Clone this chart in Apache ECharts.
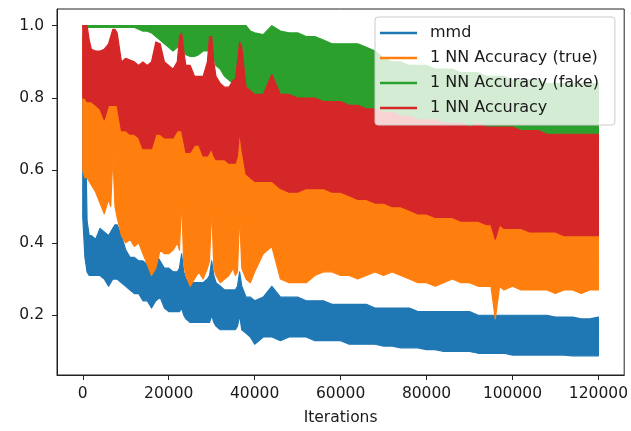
<!DOCTYPE html>
<html><head><meta charset="utf-8">
<script src="https://cdn.jsdelivr.net/npm/echarts@6.0.0/dist/echarts.min.js"></script>
<style>html,body{margin:0;padding:0;background:#fff}#c{width:631px;height:431px}</style>
</head><body><div id="c"></div>
<script>
// Iteration positions at which the band edges were read
const iterations = [0,500,1000,1500,
 2000,3000,4000,5000,6000,6500,7000,7500,8000,9000,10000,
 11000,12000,13000,14000,15000,16000,17000,18000,19000,20000,
 21000,22000,22500,23000,23500,24000,25000,26000,27000,28000,29000,29500,30000,30500,
 31000,32000,33000,34000,35000,35500,36000,36500,37000,38000,39000,40000,
 42000,44000,46000,48000,50000,52000,54000,56000,58000,60000,
 62000,64000,66000,68000,70000,72000,74000,76000,78000,80000,
 82000,84000,86000,88000,90000,92000,94000,95000,96000,97000,98000,100000,
 102000,104000,106000,108000,110000,112000,114000,116000,118000,120000];

const xTicks = [0,20000,40000,60000,80000,100000,120000];
const yTicks = [0.2,0.4,0.6,0.8,1.0];
const seriesNames = ['mmd','1 NN Accuracy (true)','1 NN Accuracy (fake)','1 NN Accuracy'];

// mmd: lower / upper envelope of the noisy trace
const mmdLow = [0.47,0.36,0.32,0.31,
 0.31,0.31,0.31,0.30,0.28,0.29,0.30,0.30,0.30,0.29,0.28,
 0.27,0.26,0.26,0.24,0.24,0.22,0.24,0.25,0.22,0.21,
 0.21,0.21,0.21,0.22,0.20,0.19,0.18,0.18,0.18,0.18,0.18,0.18,0.20,0.18,
 0.17,0.16,0.16,0.16,0.16,0.16,0.17,0.20,0.16,0.15,0.14,0.12,
 0.14,0.14,0.13,0.14,0.14,0.14,0.13,0.13,0.13,0.13,
 0.12,0.12,0.12,0.12,0.115,0.115,0.11,0.11,0.11,0.105,
 0.105,0.10,0.10,0.10,0.10,0.095,0.095,0.095,0.095,0.095,0.095,0.09,
 0.09,0.09,0.09,0.09,0.09,0.09,0.088,0.088,0.088,0.088];
const mmdHigh = [0.91,0.80,0.46,0.42,
 0.42,0.41,0.44,0.43,0.42,0.43,0.44,0.45,0.45,0.42,0.38,
 0.36,0.36,0.35,0.35,0.34,0.34,0.37,0.35,0.33,0.33,
 0.32,0.32,0.33,0.37,0.32,0.30,0.29,0.29,0.29,0.29,0.30,0.31,0.35,0.31,
 0.29,0.28,0.27,0.27,0.27,0.27,0.28,0.32,0.28,0.25,0.25,0.24,
 0.25,0.28,0.25,0.25,0.25,0.24,0.24,0.24,0.23,0.23,
 0.23,0.23,0.23,0.22,0.22,0.22,0.22,0.22,0.21,0.21,
 0.21,0.21,0.21,0.21,0.21,0.20,0.20,0.20,0.20,0.20,0.20,0.20,
 0.20,0.20,0.20,0.20,0.195,0.195,0.195,0.19,0.19,0.195];

// 1 NN Accuracy (true)
const trueLow = [0.60,0.58,0.58,0.57,
 0.56,0.54,0.51,0.48,0.52,0.50,0.64,0.50,0.47,0.42,0.40,
 0.41,0.39,0.40,0.37,0.34,0.31,0.33,0.38,0.37,0.37,
 0.38,0.40,0.38,0.52,0.34,0.31,0.28,0.30,0.32,0.30,0.33,0.35,0.50,0.33,
 0.31,0.29,0.30,0.31,0.33,0.31,0.32,0.48,0.33,0.30,0.29,0.32,
 0.37,0.39,0.30,0.29,0.29,0.29,0.31,0.32,0.32,0.31,
 0.31,0.30,0.31,0.32,0.31,0.32,0.31,0.30,0.29,0.29,
 0.28,0.29,0.30,0.29,0.29,0.28,0.28,0.28,0.19,0.28,0.27,0.28,
 0.27,0.27,0.27,0.27,0.26,0.27,0.27,0.26,0.27,0.27];
const trueHigh = [0.97,0.96,0.86,0.85,
 0.85,0.84,0.83,0.82,0.83,0.83,0.84,0.84,0.84,0.80,0.79,
 0.78,0.77,0.77,0.76,0.75,0.75,0.78,0.78,0.77,0.76,
 0.77,0.78,0.78,0.80,0.76,0.74,0.74,0.75,0.75,0.73,0.74,0.75,0.76,0.74,
 0.72,0.71,0.71,0.71,0.72,0.72,0.73,0.77,0.72,0.68,0.67,0.66,
 0.66,0.66,0.64,0.63,0.63,0.63,0.62,0.62,0.62,0.61,
 0.61,0.60,0.60,0.59,0.59,0.58,0.58,0.58,0.57,0.57,
 0.56,0.56,0.55,0.55,0.55,0.54,0.54,0.54,0.54,0.535,0.53,0.53,
 0.53,0.52,0.52,0.52,0.51,0.51,0.51,0.51,0.51,0.51];

// 1 NN Accuracy (fake)
const fakeLow = [0.995,0.995,0.995,0.995,
 0.995,0.995,0.995,0.995,0.995,0.995,0.995,0.995,0.995,0.995,0.995,
 0.995,0.995,0.99,0.985,0.985,0.98,0.97,0.96,0.95,0.94,
 0.93,0.94,0.945,0.95,0.93,0.92,0.915,0.915,0.92,0.93,0.93,0.95,0.95,0.91,
 0.89,0.88,0.86,0.85,0.84,0.84,0.87,0.90,0.88,0.81,0.80,0.80,
 0.79,0.80,0.79,0.79,0.79,0.78,0.78,0.77,0.77,0.77,
 0.76,0.76,0.75,0.75,0.74,0.74,0.73,0.73,0.72,0.72,
 0.71,0.71,0.70,0.70,0.70,0.70,0.69,0.69,0.69,0.69,0.69,0.69,
 0.68,0.68,0.68,0.68,0.68,0.67,0.67,0.67,0.67,0.67];
const fakeHigh = [1,1,1,1,
 1,1,1,1,1,1,1,1,1,1,1,
 1,1,1,1,1,1,1,1,1,1,
 1,1,1,1,1,1,1,1,1,1,1,1,1,1,
 1,1,1,1,1,1,1,1,1,1,0.985,0.98,
 0.975,1.0,0.985,0.98,0.98,0.97,0.97,0.96,0.95,0.95,
 0.95,0.95,0.94,0.93,0.91,0.90,0.90,0.89,0.89,0.89,
 0.88,0.88,0.88,0.87,0.87,0.87,0.86,0.86,0.86,0.86,0.86,0.85,
 0.85,0.85,0.85,0.84,0.84,0.84,0.84,0.84,0.84,0.84];

// 1 NN Accuracy
const accLow = [0.80,0.80,0.79,0.79,
 0.79,0.78,0.77,0.74,0.78,0.78,0.78,0.78,0.78,0.71,0.71,
 0.70,0.70,0.69,0.66,0.66,0.66,0.70,0.70,0.69,0.69,
 0.69,0.71,0.71,0.71,0.68,0.65,0.65,0.67,0.67,0.64,0.64,0.65,0.66,0.64,
 0.63,0.63,0.63,0.62,0.62,0.62,0.64,0.71,0.66,0.59,0.58,0.57,
 0.57,0.57,0.55,0.54,0.54,0.55,0.55,0.55,0.54,0.54,
 0.53,0.52,0.52,0.51,0.51,0.50,0.50,0.49,0.48,0.48,
 0.47,0.47,0.47,0.46,0.46,0.46,0.45,0.45,0.41,0.45,0.44,0.44,
 0.44,0.43,0.43,0.43,0.43,0.42,0.42,0.42,0.42,0.42];
const accHigh = [1.0,1.0,1.0,0.96,
 0.935,0.93,0.93,0.935,0.95,0.97,0.99,0.99,0.98,0.90,0.91,
 0.905,0.90,0.89,0.90,0.89,0.90,0.955,0.95,0.90,0.89,
 0.88,0.90,0.97,0.98,0.93,0.89,0.89,0.86,0.86,0.86,0.90,0.97,0.97,0.90,
 0.86,0.84,0.83,0.83,0.85,0.85,0.90,0.955,0.94,0.83,0.82,0.81,
 0.81,0.865,0.81,0.81,0.80,0.80,0.80,0.79,0.79,0.79,
 0.78,0.78,0.77,0.77,0.76,0.76,0.75,0.75,0.74,0.74,
 0.74,0.73,0.73,0.73,0.72,0.73,0.72,0.72,0.72,0.72,0.72,0.72,
 0.71,0.71,0.71,0.70,0.70,0.70,0.70,0.70,0.70,0.70];

const colors = ['#1f77b4','#ff7f0e','#2ca02c','#d62728'];
const lows = [mmdLow, trueLow, fakeLow, accLow];
const highs = [mmdHigh, trueHigh, fakeHigh, accHigh];
const FONT = 'DejaVu Sans';
const TXT = '#1a1a1a';

// Each series is drawn as a filled band between its lower and upper envelope,
// positioned through the chart's own axes (api.coord).
const series = seriesNames.map((name, s) => ({
  name: name,
  type: 'custom',
  coordinateSystem: 'cartesian2d',
  silent: true,
  clip: true,
  animation: false,
  itemStyle: { color: colors[s] },
  encode: { x: 0, y: [1, 2] },
  data: iterations.map((x, i) => [x, lows[s][i], highs[s][i]]),
  renderItem: function (params, api) {
    if (params.dataIndex !== 0) return null;
    const n = iterations.length;
    const pts = [];
    for (let i = 0; i < n; i++) pts.push(api.coord([iterations[i], highs[s][i]]));
    for (let i = n - 1; i >= 0; i--) pts.push(api.coord([iterations[i], lows[s][i]]));
    return {
      type: 'polygon',
      shape: { points: pts },
      style: { fill: colors[s], stroke: colors[s], lineWidth: 1.2, lineJoin: 'round' }
    };
  }
}));

const chart = echarts.init(document.getElementById('c'), null, { renderer: 'canvas' });
chart.setOption({
  animation: false,
  backgroundColor: '#ffffff',
  grid: { left: 57, right: 6, top: 9, bottom: 53, show: true, borderColor: '#222', borderWidth: 1, backgroundColor: 'transparent' },
  xAxis: {
    type: 'value', min: -6000, max: 126000,
    splitLine: { show: false },
    axisLine: { show: true, onZero: false, lineStyle: { color: '#222', width: 1 } },
    axisTick: { show: true, length: 5, customValues: xTicks, lineStyle: { color: '#222', width: 1 } },
    axisLabel: { customValues: xTicks, margin: 11, fontFamily: FONT, fontSize: 15.5, color: TXT,
      formatter: v => String(Math.round(v)) },
    name: 'Iterations', nameLocation: 'middle', nameGap: 35,
    nameTextStyle: { fontFamily: FONT, fontSize: 15.5, color: TXT }
  },
  yAxis: {
    type: 'value', min: 0.035, max: 1.046,
    splitLine: { show: false },
    axisLine: { show: true, onZero: false, lineStyle: { color: '#222', width: 1 } },
    axisTick: { show: true, length: 5, customValues: yTicks, lineStyle: { color: '#222', width: 1 } },
    axisLabel: { customValues: yTicks, margin: 13, fontFamily: FONT, fontSize: 15.5, color: TXT,
      formatter: v => Number(v).toFixed(1) }
  },
  legend: {
    data: seriesNames.map((n, s) => ({ name: n, icon: 'rect', itemStyle: { color: colors[s] } })),
    orient: 'vertical', left: 375, top: 17,
    itemWidth: 37, itemHeight: 2.5, itemGap: 9,
    padding: [8, 16, 9, 5],
    backgroundColor: 'rgba(255,255,255,0.8)', borderColor: '#cccccc', borderWidth: 1, borderRadius: 3,
    selectedMode: false,
    textStyle: { fontFamily: FONT, fontSize: 16, color: TXT, lineHeight: 16, padding: [0, 0, 0, 8] }
  },
  series: series
});
</script>
</body></html>
